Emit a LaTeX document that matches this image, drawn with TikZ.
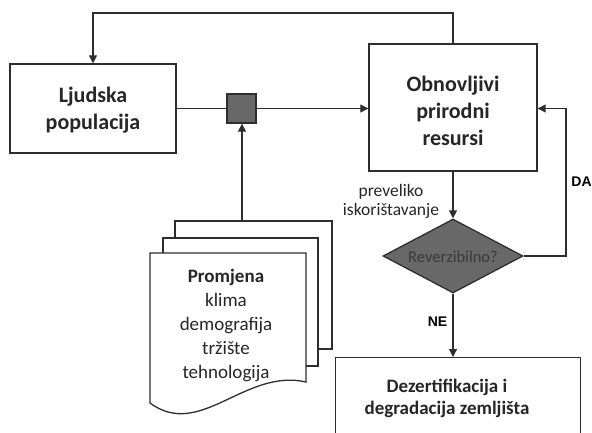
\documentclass[tikz,border=0pt]{standalone}
\usepackage{fontspec}
\setmainfont{Carlito}
\newfontfamily\arl{Liberation Sans}
\usetikzlibrary{arrows.meta,shapes.geometric}
\definecolor{ln}{HTML}{2E2E2E}
\definecolor{gfill}{HTML}{686868}
\definecolor{dtext}{HTML}{3A3A3A}
\begin{document}
\begin{tikzpicture}[x=1pt,y=-1pt,
  box/.style={draw=ln,line width=1.4pt,fill=white,inner sep=0pt},
  bigtxt/.style={font=\fontsize{22}{27}\selectfont\bfseries,align=center,text=black!85},
  conn/.style={draw=ln,line width=1.3pt},
  arr/.style={conn,-{Triangle[length=8pt,width=8pt]}},
  page/.style={draw=ln,line width=1.3pt,fill=white},
  yesno/.style={font=\arl\bfseries\fontsize{14}{16}\selectfont,text=black}]
\useasboundingbox (0,0) rectangle (592,432);
\clip (0,0) rectangle (592,432);
% boxes
\node[box,minimum width=166pt,minimum height=89pt] (lj) at (93,108.5) {};
\node[bigtxt] (ljt) at (93,110) {Ljudska\\populacija};
\node[box,minimum width=168pt,minimum height=127pt] (ob) at (453,107.5) {};
\node[bigtxt] (obt) at (453,111) {Obnovljivi\\prirodni\\resursi};
\node[draw=ln,line width=1.3pt,fill=gfill,minimum size=29pt,inner sep=0pt] (sq) at (241.5,108.5) {};
\node[diamond,draw=ln,line width=1.3pt,fill=gfill,aspect=1.9,inner sep=0pt,
  minimum width=140pt,minimum height=74pt] (di) at (453,256) {};
\node[text=dtext,font=\fontsize{16.5}{19}\selectfont] (dit) at (453,257) {Reverzibilno?};
\node[box,anchor=north west,minimum width=245pt,minimum height=110pt] (dz) at (335,357) {};
\node[font=\fontsize{19}{22}\selectfont\bfseries,align=center,text=black!85] (dzt) at (447,398) {Dezertifikacija i\\degradacija zemljišta};
% document stack
\draw[page] (175,221) rectangle (332,349);
\draw[page] (163,238) rectangle (318,366);
\draw[page] (150,253) -- (306,253) -- (306,382) .. controls (245,368) and (200,440) .. (150,403) -- cycle;
\coordinate (doc) at (242,221);
\node[font=\fontsize{19}{24}\selectfont,align=center,text=black!85] (dct) at (226,325)
  {\textbf{Promjena}\\klima\\demografija\\tržište\\tehnologija};
% connectors
\coordinate (tl) at (93,13);
\coordinate (tr) at (453,13);
\draw[arr] (ob.north) -- (tr) -- (tl) -- (lj.north);
\draw[conn] (lj.east |- sq.west) -- (sq.west);
\draw[arr] (sq.east) -- (sq.east -| ob.west);
\draw[arr] (doc) -- (doc |- sq.south);
\draw[arr] (ob.south) -- (di.north);
\draw[arr] (di.south) -- (dz.north -| di.south);
\coordinate (dr) at (566,256);
\draw[arr] (di.east) -- (dr) -- (dr |- sq.east) -- (ob.east |- sq.east);
% labels
\node[font=\fontsize{17.5}{19}\selectfont,align=center,text=black!85] (pv) at (391,201) {preveliko\\iskorištavanje};
\node[yesno] (da) at (581.5,182) {DA};
\node[yesno] (ne) at (437.5,322) {NE};
\end{tikzpicture}
\end{document}
